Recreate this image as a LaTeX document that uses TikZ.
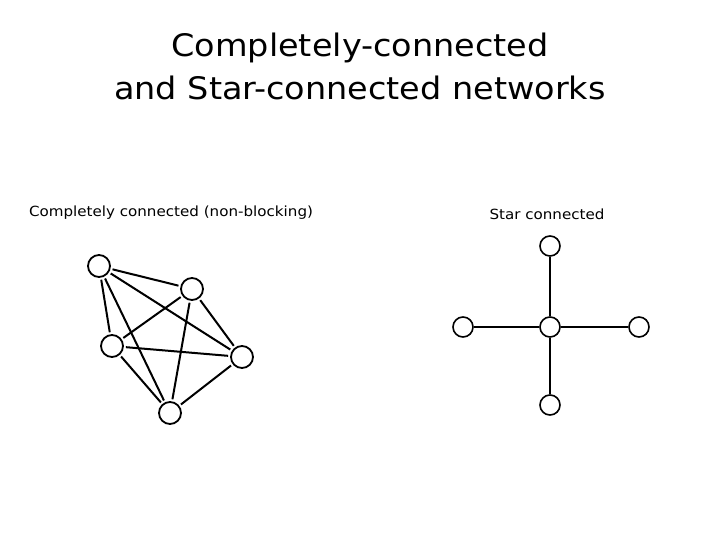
\documentclass[tikz,border=0pt]{standalone}
\usepackage{fontspec}
\setmainfont{DejaVu Sans}
\newfontfamily\widefont[FakeStretch=1.08]{DejaVu Sans}
\usepackage{tikz}
\usetikzlibrary{positioning}

\begin{document}
\begin{tikzpicture}[
  x=1pt,y=-1pt,
  pe/.style={circle,draw=black,line width=1.8pt,fill=white,minimum size=22pt,inner sep=0pt},
  link/.style={line width=2pt,shorten <=2pt,shorten >=2pt},
  ttl/.style={font=\widefont\fontsize{31}{43}\selectfont,align=center},
  lbl/.style={font=\widefont\fontsize{14}{16}\selectfont}]

  \useasboundingbox (0,0) rectangle (720,540);

  % title
  \node[ttl] (title) at (360,66) {Completely-connected\\and Star-connected networks};

  \node[lbl] (lblfull) at (171,213) {Completely connected (non-blocking)};
  \node[lbl] (lblstar) at (547,214) {Star connected};

  % completely connected
  \node[pe] (a) at (99,266) {};
  \node[pe] (b) at (192,289) {};
  \node[pe] (c) at (112,346) {};
  \node[pe] (d) at (242,357) {};
  \node[pe] (e) at (170,413) {};
  \foreach \u/\v in {a/b,a/c,a/d,a/e,b/c,b/d,b/e,c/d,c/e,d/e}
    \draw[link] (\u)--(\v);

  % star
  \node[pe,minimum size=20pt,line width=1.6pt] (hub) at (550,327) {};
  \node[pe,minimum size=20pt,line width=1.6pt] (n) at (550,246) {};
  \node[pe,minimum size=20pt,line width=1.6pt] (s) at (550,405) {};
  \node[pe,minimum size=20pt,line width=1.6pt] (w) at (463,327) {};
  \node[pe,minimum size=20pt,line width=1.6pt] (o) at (639,327) {};
  \foreach \v in {n,s,w,o}
    \draw[link,shorten <=0pt,shorten >=0pt,line width=1.5pt] (hub)--(\v);

\end{tikzpicture}
\end{document}
